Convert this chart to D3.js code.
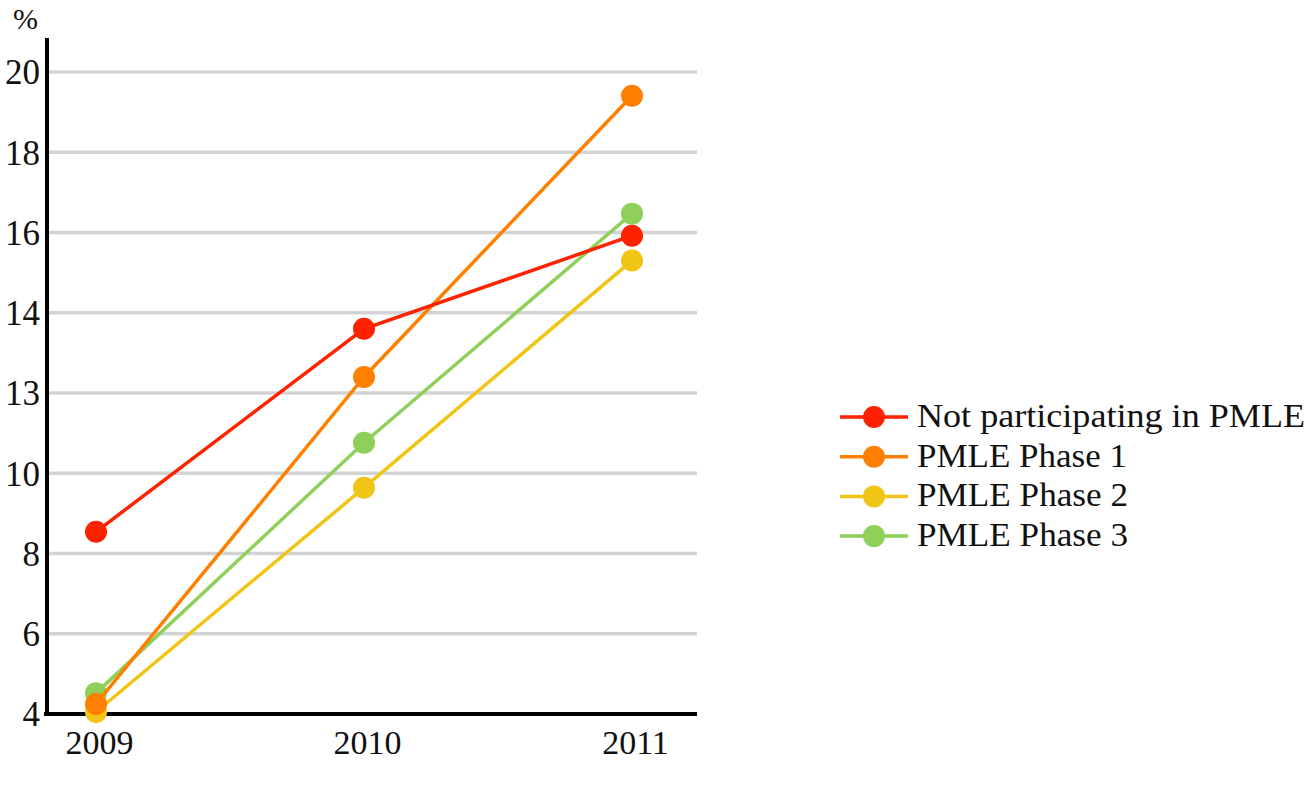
<!DOCTYPE html>
<html><head><meta charset="utf-8">
<script src="https://cdn.jsdelivr.net/npm/d3@7/dist/d3.min.js"></script>
<style>body{margin:0;background:#fff}svg{display:block}text{font-family:"Liberation Serif","DejaVu Serif",serif;fill:#111}</style>
</head><body>
<svg id="c" width="1311" height="806"></svg>
<script>
const years = ["2009","2010","2011"];
const seriesNames = ["Not participating in PMLE","PMLE Phase 1","PMLE Phase 2","PMLE Phase 3"];
const notParticipating = [8.54, 13.6, 15.92];
const phase1 = [4.25, 12.4, 19.41];
const phase2 = [4.05, 9.64, 15.3];
const phase3 = [4.52, 10.76, 16.47];
const tickValues = [4,6,8,10,12,14,16,18,20];
const tickLabels = ["4","6","8","10","13","14","16","18","20"];
const colors = ["#ff2200","#ff8000","#f0c516","#8fd05a"];

const series = [notParticipating, phase1, phase2, phase3].map((v,i)=>({name:seriesNames[i], values:v, color:colors[i]}));

const svg = d3.select("#c");
const x = d3.scalePoint().domain(years).range([96,632]);
const y = d3.scaleLinear().domain([4,20]).range([714,72]);

// gridlines
svg.append("g").selectAll("line").data(tickValues.slice(1)).join("line")
  .attr("x1",48).attr("x2",697).attr("y1",d=>y(d)).attr("y2",d=>y(d))
  .attr("stroke","#d3d3d3").attr("stroke-width",3.5);

// y tick labels
const yAxis = d3.axisLeft(y).tickValues(tickValues).tickFormat((d,i)=>tickLabels[i]).tickSize(0).tickPadding(0);
const gy = svg.append("g").attr("transform","translate(40,0)").call(yAxis);
gy.select(".domain").remove();
gy.selectAll("text").attr("font-size",35).attr("fill","#111").attr("dy","0.34em");

// x tick labels
const xAxis = d3.axisBottom(x).tickSize(0).tickPadding(0);
const gx = svg.append("g").attr("transform","translate(3,714)").call(xAxis);
gx.select(".domain").remove();
gx.selectAll("text").attr("font-size",34).attr("fill","#111").attr("dy",null).attr("y",40);

// axes lines
svg.append("line").attr("x1",47).attr("x2",47).attr("y1",38).attr("y2",716).attr("stroke","#000").attr("stroke-width",4);
svg.append("line").attr("x1",44).attr("x2",697).attr("y1",714).attr("y2",714).attr("stroke","#000").attr("stroke-width",4);

svg.append("text").attr("x",13).attr("y",29).attr("font-size",30).text("%");

// draw order: phase3, phase2, phase1, not participating
const order = [3,2,1,0];
const line = d3.line().x((d,i)=>x(years[i])).y(d=>y(d));
order.forEach(k=>{
  const s = series[k];
  const g = svg.append("g");
  g.append("path").attr("d",line(s.values)).attr("fill","none").attr("stroke",s.color).attr("stroke-width",3.5);
  g.selectAll("circle").data(s.values).join("circle")
    .attr("cx",(d,i)=>x(years[i])).attr("cy",d=>y(d)).attr("r",11).attr("fill",s.color);
});

// legend
const legendWidths = [388,210,211,211];
const lg = svg.append("g");
series.forEach((s,i)=>{
  const yy = 417 + i*39.7;
  lg.append("line").attr("x1",840).attr("x2",908).attr("y1",yy).attr("y2",yy).attr("stroke",s.color).attr("stroke-width",3.5);
  lg.append("circle").attr("cx",874).attr("cy",yy).attr("r",11).attr("fill",s.color);
  lg.append("text").attr("x",917).attr("y",yy+10).attr("font-size",33)
    .attr("textLength",legendWidths[i]).attr("lengthAdjust","spacingAndGlyphs").text(s.name);
});
</script>
</body></html>
